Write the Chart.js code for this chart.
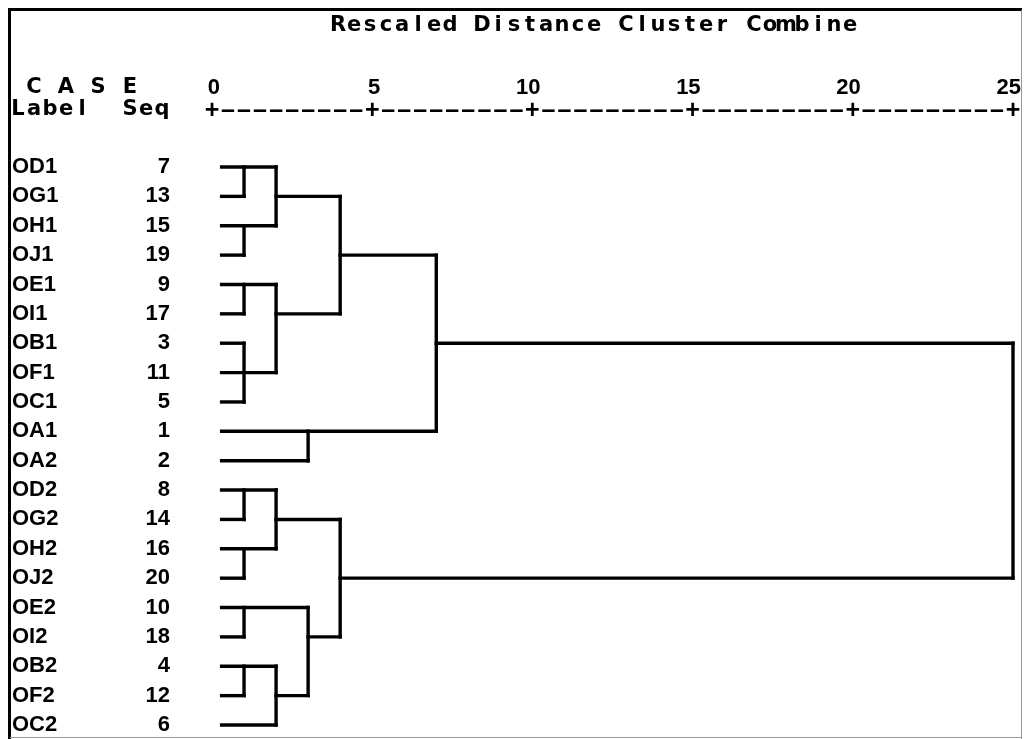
<!DOCTYPE html>
<html>
<head>
<meta charset="utf-8">
<title>Rescaled Distance Cluster Combine</title>
<script src="https://cdn.jsdelivr.net/npm/chart.js"></script>
<style>
    body {
        margin: 0;
        background: #fff;
    }
    #wrap {
        width: 1024px;
        height: 739px;
        position: relative;
    }
</style>
</head>
<body>
<div id="wrap"><canvas id="dendro"></canvas></div>
<script>
    // cases, top to bottom, with their sequence numbers
    const caseLabels = ['OD1', 'OG1', 'OH1', 'OJ1', 'OE1', 'OI1', 'OB1', 'OF1', 'OC1', 'OA1',
                        'OA2', 'OD2', 'OG2', 'OH2', 'OJ2', 'OE2', 'OI2', 'OB2', 'OF2', 'OC2'];
    const caseSeq = [7, 13, 15, 19, 9, 17, 3, 11, 5, 1, 2, 8, 14, 16, 20, 10, 18, 4, 12, 6];

    // rescaled distance where each case's own line stops
    const leafEnd = [2, 1, 2, 1, 2, 1, 1, 2, 1, 7, 3, 2, 1, 2, 1, 3, 1, 2, 1, 2];

    // vertical joins: [distance, first row, last row]
    const joins = [
        [1, 0, 1], [2, 0, 2], [1, 2, 3], [4, 1, 5], [1, 4, 5], [2, 4, 7], [1, 6, 8],
        [7, 3, 9], [3, 9, 10], [25, 6, 14],
        [1, 11, 12], [2, 11, 13], [1, 13, 14], [4, 12, 16], [1, 15, 16], [3, 15, 18],
        [1, 17, 18], [2, 17, 19]
    ];

    // horizontal links from one join to the next: [row, from distance, to distance]
    const bridges = [
        [1, 2, 4], [5, 2, 4], [3, 4, 7], [6, 7, 25],
        [12, 2, 4], [14, 4, 25], [16, 3, 4], [18, 2, 3]
    ];

    const distTicks = [0, 5, 10, 15, 20, 25];
    const leafStart = 0.3;

    const FONT = "'Liberation Sans', Arial, sans-serif";
    const HEAD_FONT = "'DejaVu Sans', 'Liberation Sans', sans-serif";
    const PITCH = 16; // the old printout is on a fixed character grid

    const segments = [];
    caseLabels.forEach((_, i) => segments.push([[leafStart, i], [leafEnd[i], i]]));
    joins.forEach(([d, a, b]) => segments.push([[d, a], [d, b]]));
    bridges.forEach(([r, a, b]) => segments.push([[a, r], [b, r]]));

    const datasets = segments.map(s => ({
        data: s.map(([x, y]) => ({ x: x, y: y })),
        showLine: true,
        borderColor: '#000',
        borderWidth: 3.4,
        borderCapStyle: 'square',
        pointRadius: 0,
        clip: false
    }));

    function monoText(ctx, str, x0, y) {
        for (let i = 0; i < str.length; i++) {
            ctx.fillText(str[i], x0 + i * PITCH + PITCH / 2, y);
        }
    }

    // frame, headings, the +----+ ruler and the Seq column
    const printout = {
        id: 'printout',
        beforeDraw(chart) {
            const ctx = chart.ctx;
            ctx.save();
            ctx.fillStyle = '#000';
            ctx.fillRect(8, 8, 1014, 3);
            ctx.fillRect(8, 8, 3, 731);
            ctx.fillStyle = '#999';
            ctx.fillRect(1021, 10, 1, 729);
            ctx.fillRect(10, 737, 1012, 1);
            ctx.restore();
        },
        afterDraw(chart) {
            const ctx = chart.ctx;
            const xs = chart.scales.x;
            const ys = chart.scales.y;
            ctx.save();
            ctx.fillStyle = '#000';
            ctx.font = 'bold 21px ' + HEAD_FONT;
            ctx.textAlign = 'center';
            ctx.textBaseline = 'middle';
            monoText(ctx, 'Rescaled Distance Cluster Combine', 330, 26);
            monoText(ctx, 'C A S E', 26, 88);
            monoText(ctx, 'Label  Seq', 10, 110);

            ctx.font = 'bold 25px ' + FONT;
            ctx.textBaseline = 'alphabetic';
            for (let v = 0; v <= 25; v += 0.5) {
                const ch = distTicks.includes(v) ? '+' : '\u2013';
                ctx.fillText(ch, xs.getPixelForValue(v), 118);
            }

            ctx.font = 'bold 22px ' + FONT;
            ctx.textAlign = 'right';
            ctx.textBaseline = 'middle';
            caseSeq.forEach((n, i) => ctx.fillText(String(n), 170, ys.getPixelForValue(i)));
            ctx.restore();
        }
    };

    new Chart(document.getElementById('dendro'), {
        type: 'scatter',
        data: { datasets: datasets },
        options: {
            responsive: true,
            maintainAspectRatio: false,
            devicePixelRatio: 1,
            animation: false,
            layout: { padding: { left: 12, right: 11, top: 0, bottom: 4 } },
            plugins: {
                legend: { display: false },
                tooltip: { enabled: false }
            },
            scales: {
                x: {
                    type: 'linear',
                    position: 'top',
                    min: 0,
                    max: 25,
                    grid: { display: false, drawTicks: false },
                    border: { display: false },
                    afterBuildTicks: s => { s.ticks = distTicks.map(v => ({ value: v })); },
                    afterFit: s => { s.paddingLeft = 0; s.paddingRight = 0; s.height = 125; },
                    ticks: {
                        align: 'end',
                        labelOffset: 8,
                        padding: 24,
                        maxRotation: 0,
                        autoSkip: false,
                        color: '#000',
                        font: { family: FONT, size: 22, weight: 'bold' }
                    }
                },
                y: {
                    type: 'linear',
                    reverse: true,
                    min: -1.43,
                    max: 19.34,
                    grid: { display: false, drawTicks: false },
                    border: { display: false },
                    afterBuildTicks: s => { s.ticks = caseLabels.map((_, i) => ({ value: i })); },
                    afterFit: s => { s.width = 200; s.paddingTop = 0; s.paddingBottom = 0; },
                    ticks: {
                        crossAlign: 'far',
                        autoSkip: false,
                        color: '#000',
                        font: { family: FONT, size: 22, weight: 'bold' },
                        callback: v => caseLabels[v]
                    }
                }
            }
        },
        plugins: [printout]
    });
</script>
</body>
</html>
